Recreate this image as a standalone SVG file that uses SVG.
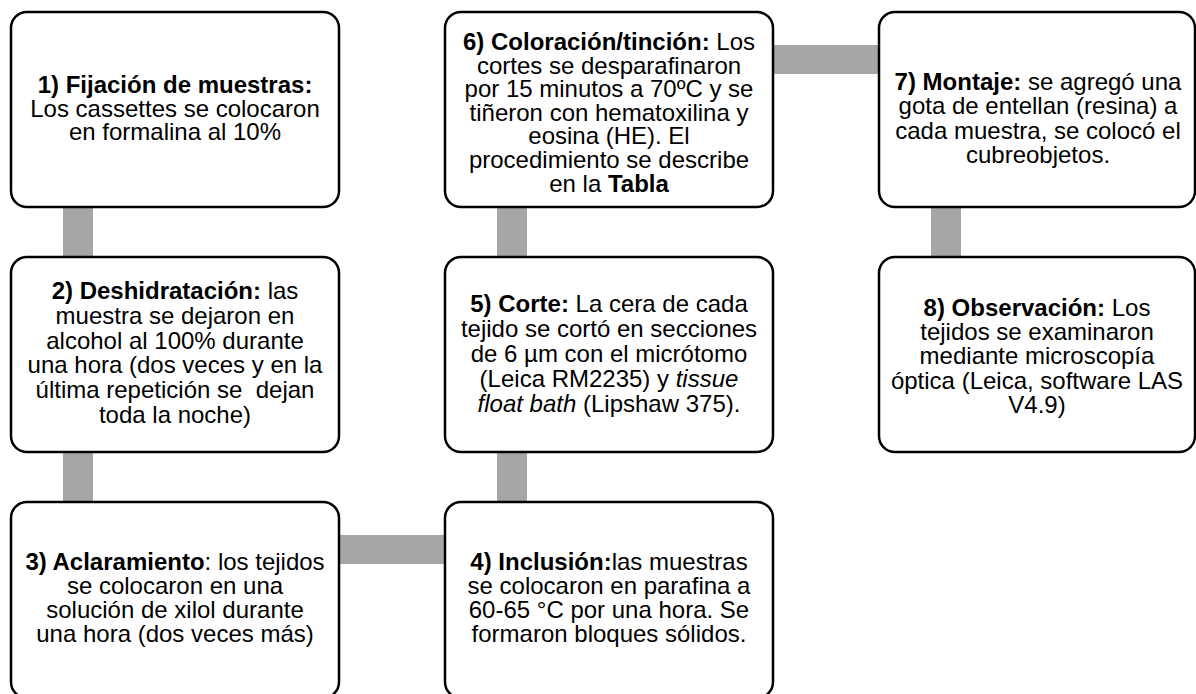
<svg xmlns="http://www.w3.org/2000/svg" width="1196" height="694" viewBox="0 0 1196 694">
<style>
.box{fill:#fff;stroke:#000;stroke-width:2.5}
.bar{fill:#a6a6a6}
text{font-family:"Liberation Sans",Arial,sans-serif;font-size:24px;fill:#000;text-anchor:middle}
.b{font-weight:bold}
.i{font-style:italic}
</style>
<rect width="1196" height="694" fill="#fff"/>
<g id="connectors">
<rect class="bar" x="63" y="200" width="30" height="64"/>
<rect class="bar" x="63" y="445" width="30" height="64"/>
<rect class="bar" x="330" y="535" width="124" height="29"/>
<rect class="bar" x="497" y="445" width="30" height="64"/>
<rect class="bar" x="497" y="200" width="30" height="64"/>
<rect class="bar" x="765" y="45" width="122" height="29"/>
<rect class="bar" x="931" y="200" width="30" height="64"/>
</g>
<g id="n1">
<rect class="box" x="11" y="12" width="328" height="195" rx="16"/>
<text x="175" y="93"><tspan class="b">1) Fijación de muestras:</tspan><tspan x="175" dy="23.5">Los cassettes se colocaron</tspan><tspan x="175" dy="23.5">en formalina al 10%</tspan></text>
</g>
<g id="n2">
<rect class="box" x="11" y="257" width="328" height="195" rx="16"/>
<text x="175" y="299" xml:space="preserve"><tspan class="b">2) Deshidratación:</tspan> las<tspan x="175" dy="24.8">muestra se dejaron en</tspan><tspan x="175" dy="24.8">alcohol al 100% durante</tspan><tspan x="175" dy="24.8">una hora (dos veces y en la</tspan><tspan x="175" dy="24.8">última repetición se  dejan</tspan><tspan x="175" dy="24.8">toda la noche)</tspan></text>
</g>
<g id="n3">
<rect class="box" x="11" y="502" width="328" height="196" rx="16"/>
<text x="175" y="570"><tspan class="b">3) Aclaramiento</tspan>: los tejidos<tspan x="175" dy="24">se colocaron en una</tspan><tspan x="175" dy="24">solución de xilol durante</tspan><tspan x="175" dy="24">una hora (dos veces más)</tspan></text>
</g>
<g id="n4">
<rect class="box" x="445" y="502" width="328" height="196" rx="16"/>
<text x="609" y="570"><tspan class="b">4) Inclusión:</tspan>las muestras<tspan x="609" dy="24">se colocaron en parafina a</tspan><tspan x="609" dy="24">60-65 °C por una hora. Se</tspan><tspan x="609" dy="24">formaron bloques sólidos.</tspan></text>
</g>
<g id="n5">
<rect class="box" x="445" y="257" width="328" height="195" rx="16"/>
<text x="609" y="311.7"><tspan class="b">5) Corte:</tspan> La cera de cada<tspan x="609" dy="25.1">tejido se cortó en secciones</tspan><tspan x="609" dy="25.1">de 6 µm con el micrótomo</tspan><tspan x="609" dy="25.1">(Leica RM2235) y <tspan class="i">tissue</tspan></tspan><tspan x="609" dy="25.1"><tspan class="i">float bath</tspan> (Lipshaw 375).</tspan></text>
</g>
<g id="n6">
<rect class="box" x="445" y="12" width="328" height="195" rx="16"/>
<text x="609" y="50"><tspan class="b">6) Coloración/tinción:</tspan> Los<tspan x="609" dy="23.6">cortes se desparafinaron</tspan><tspan x="609" dy="23.6">por 15 minutos a 70ºC y se</tspan><tspan x="609" dy="23.6">tiñeron con hematoxilina y</tspan><tspan x="609" dy="23.6">eosina (HE). El</tspan><tspan x="609" dy="23.6">procedimiento se describe</tspan><tspan x="609" dy="23.6">en la <tspan class="b">Tabla</tspan></tspan></text>
</g>
<g id="n7">
<rect class="box" x="879" y="12" width="316" height="195" rx="16"/>
<text x="1038" y="90"><tspan class="b">7) Montaje:</tspan> se agregó una<tspan x="1038" dy="24.4">gota de entellan (resina) a</tspan><tspan x="1038" dy="24.4">cada muestra, se colocó el</tspan><tspan x="1038" dy="24.4">cubreobjetos.</tspan></text>
</g>
<g id="n8">
<rect class="box" x="879" y="257" width="316" height="195" rx="16"/>
<text x="1037" y="316"><tspan class="b">8) Observación:</tspan> Los<tspan x="1037" dy="24.2">tejidos se examinaron</tspan><tspan x="1037" dy="24.2">mediante microscopía</tspan><tspan x="1037" dy="24.2">óptica (Leica, software LAS</tspan><tspan x="1037" dy="24.2">V4.9)</tspan></text>
</g>
</svg>
